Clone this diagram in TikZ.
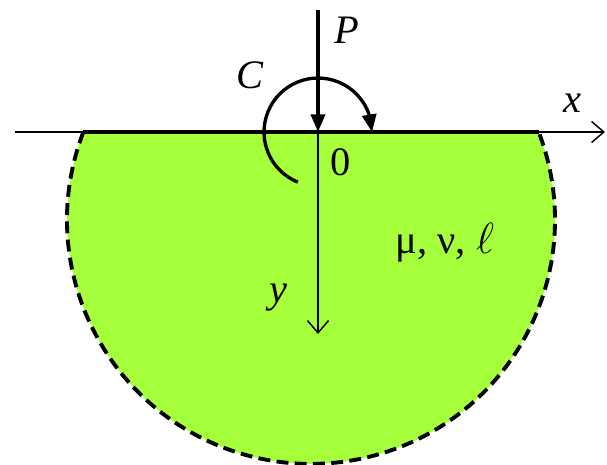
\documentclass[tikz,border=0pt]{standalone}
\usepackage{fontspec}
\setmainfont{Liberation Serif}
\usepackage{tikz}
\usetikzlibrary{positioning,arrows.meta,bending}
\definecolor{soil}{RGB}{166,255,59}

\begin{document}
\begin{tikzpicture}[x=0.02cm, y=0.02cm, >=Stealth,
    axis/.style={line width=0.85pt, -{Straight Barb[length=7pt, width=12pt, line width=0.85pt]}},
    load/.style={line width=1.9pt, -{Triangle[length=10pt, width=8pt]}},
    lbl/.style={font=\fontsize{23}{27}\selectfont, inner sep=0pt}]
    \useasboundingbox (-318, -332) rectangle (289, 132);
    % --- Half-space (circle segment) ---
    \coordinate (O) at (0, 0);
    \coordinate (chordL) at (-234.6, 0);
    \coordinate (chordR) at (220.6, 0);
    \fill[soil] (chordL) arc[start angle=158.9, end angle=381.1, radius=244] -- cycle;
    \draw[line width=2.2pt, dash pattern=on 6.8pt off 3.6pt] (chordL) arc[start angle=158.9, end angle=381.1, radius=244];

    % Axes
    \coordinate (xstart) at (-303, 0);
    \coordinate (xend) at (287, 0);
    \coordinate (yend) at (0, -202);
    \draw[axis] (xstart) -- (xend);
    \draw[line width=2.2pt] (chordL) -- (chordR);
    \draw[axis] (O) -- (yend);

    % Force P and couple C
    \coordinate (Ptop) at (0, 122);
    \draw[load] (Ptop) -- (O);
    \draw[load] (-20.2, -50.1) arc[start angle=248, end angle=0, radius=54];

    % Labels
    \node[lbl] (P) at (29, 102) {\textit{P}};
    \node[lbl] (C) at (-68, 57) {\textit{C}};
    \node[lbl] (x) at (254, 29) {\textit{x}};
    \node[lbl] (zero) at (23, -30) {0};
    \node[lbl] (y) at (-40, -166) {\textit{y}};
    \node[lbl] (props) at (127, -111) {μ, ν, $\ell$};
\end{tikzpicture}
\end{document}
